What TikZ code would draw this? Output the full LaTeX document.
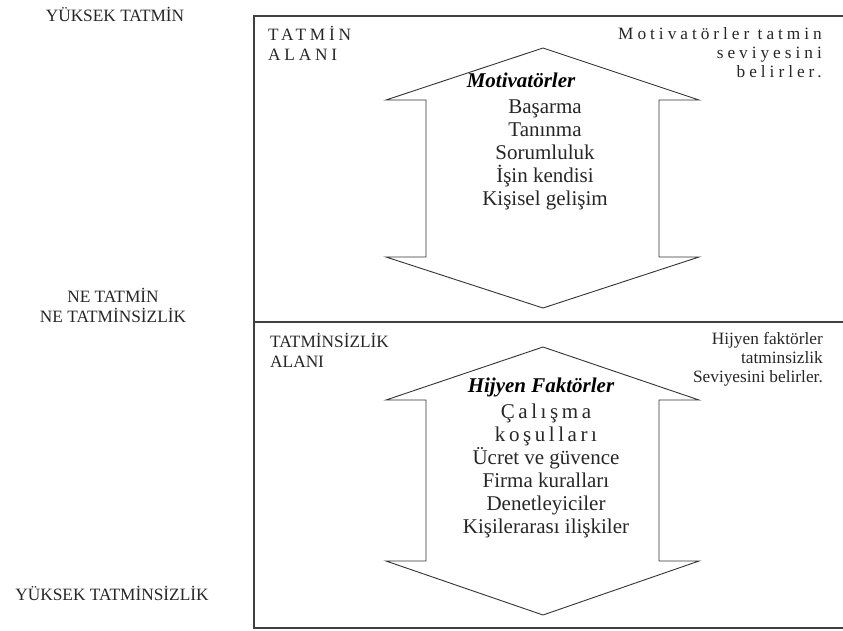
\documentclass[tikz,border=0pt]{standalone}
\usepackage{fontspec}
\setmainfont{Liberation Serif}
\usepackage{tikz}
\newcommand{\spaced}[2][18]{{\addfontfeature{LetterSpace=#1}#2}}

\begin{document}
\begin{tikzpicture}[x=1pt,y=-1pt,
    zone/.style={line width=1.6pt, draw=black!75},
    bigarrow/.style={line width=0.9pt, draw=black!80},
    levellabel/.style={font=\fontsize{17.3}{20}\selectfont, align=center, text=black!85, inner sep=0pt},
    notetext/.style={font=\fontsize{17.3}{19}\selectfont, align=right, text=black!85, inner sep=0pt},
    itemlist/.style={font=\fontsize{21}{23}\selectfont, align=center, text=black!85, inner sep=0pt},
    heading/.style={font=\fontsize{21}{23}\selectfont\bfseries\itshape, text=black, inner sep=0pt}]
\useasboundingbox (0,0) rectangle (843,630);

% Boxes
\draw[zone] (843,16) -- (254,16) -- (254,628) -- (843,628);
\draw[zone] (254,322) -- (843,322);

% Levels on the left
\node[levellabel] (high) at (115,14) {YÜKSEK TATMİN};
\node[levellabel] (neutral) at (113,305) {NE TATMİN\\NE TATMİNSİZLİK};
\node[levellabel] (low) at (112,593) {YÜKSEK TATMİNSİZLİK};

% Upper zone
\node[levellabel, align=left, anchor=west] (satzone) at (268,43) {\spaced[22]{TATMİN}\\\spaced[22]{ALANI}};
\node[notetext, anchor=east] (motnote) at (822,53) {\spaced[23]{Motivatörler tatmin}\\\spaced[23]{seviyesini}\\\spaced[23]{belirler.}};
\draw[bigarrow] (543,48) -- (699,100) -- (659,100) -- (659,257) -- (699,257) -- (543,308)
    -- (386,257) -- (426,257) -- (426,100) -- (386,100) -- cycle;
\node[heading] (mothead) at (521,80) {Motivatörler};
\node[itemlist] (motlist) at (545,155) {Başarma\\Tanınma\\Sorumluluk\\İşin kendisi\\Kişisel gelişim};

% Lower zone
\node[levellabel, align=left, anchor=west] (dissatzone) at (270,350) {TATMİNSİZLİK\\ALANI};
\node[notetext, anchor=east] (hygnote) at (823,359) {Hijyen faktörler\\tatminsizlik\\Seviyesini belirler.};
\draw[bigarrow] (543,347) -- (699,400) -- (659,400) -- (659,561) -- (699,561) -- (543,615)
    -- (386,561) -- (426,561) -- (426,400) -- (386,400) -- cycle;
\node[heading] (hyghead) at (541,387) {Hijyen Faktörler};
\node[itemlist] (hyglist) at (546,471) {\spaced[17]{Çalışma}\\\spaced[17]{koşulları}\\Ücret ve güvence\\Firma kuralları\\Denetleyiciler\\Kişilerarası ilişkiler};
\end{tikzpicture}
\end{document}
